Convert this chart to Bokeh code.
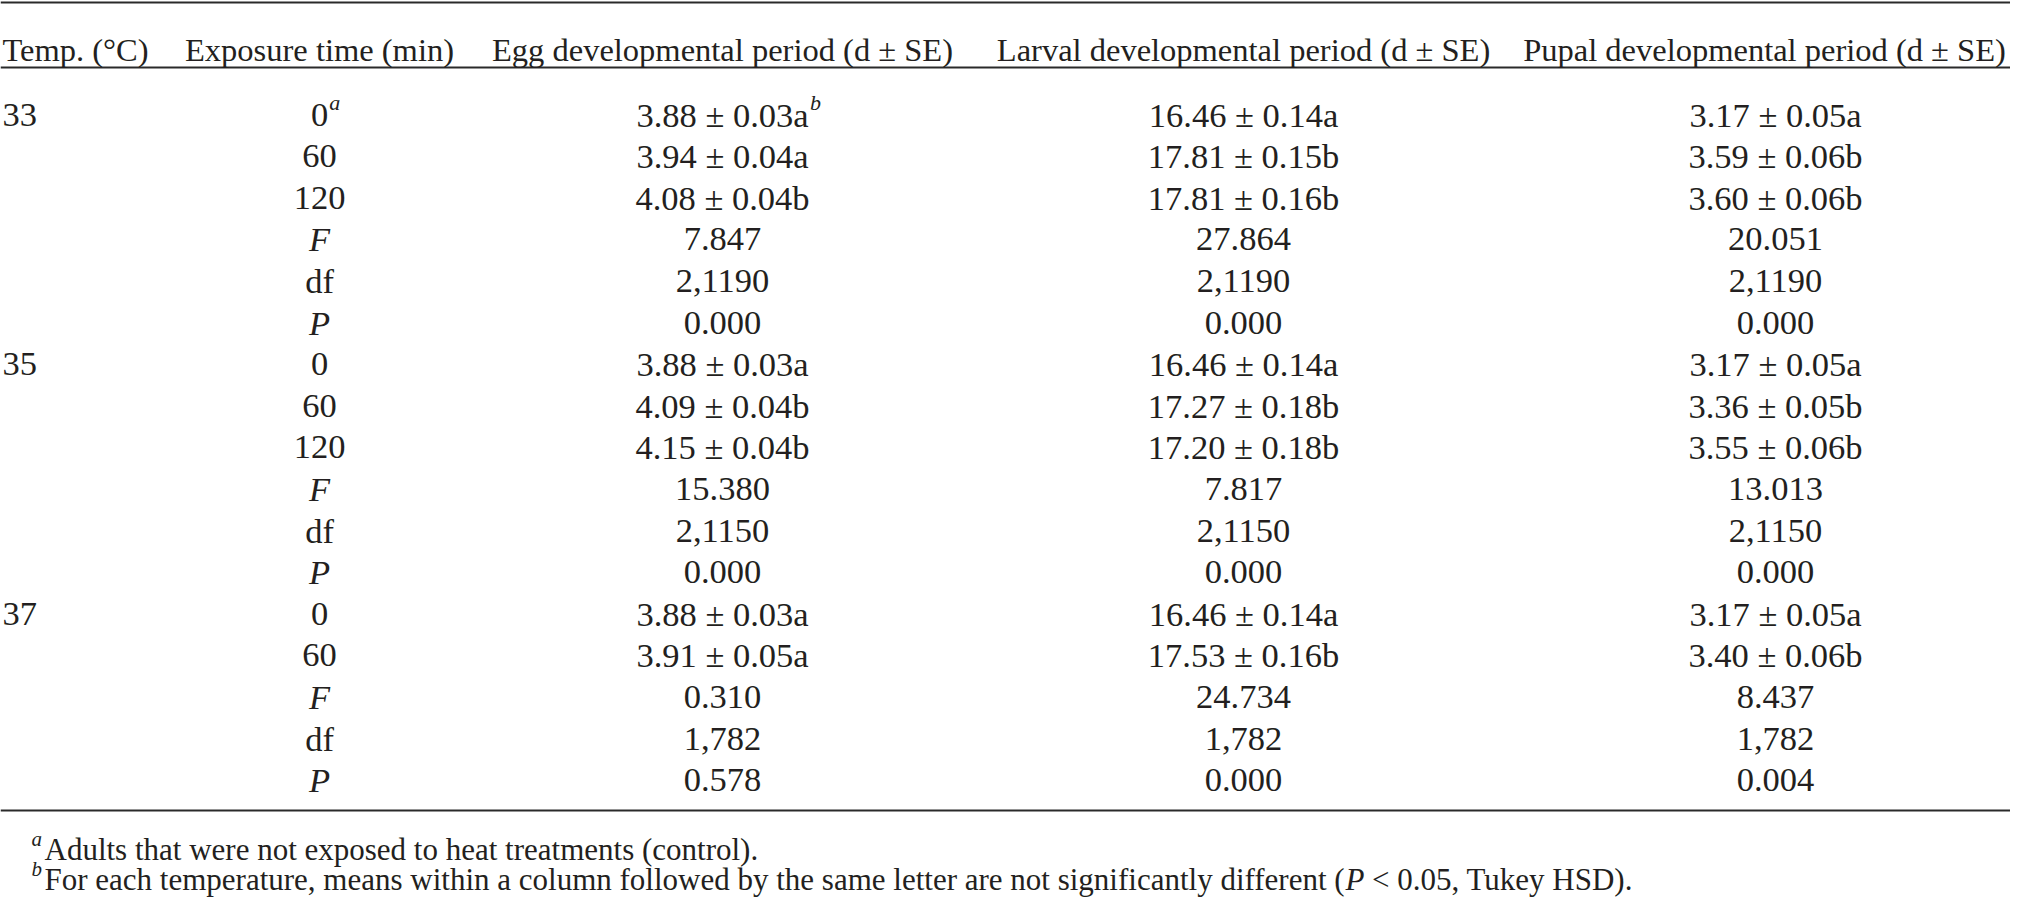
from bokeh.plotting import figure
from bokeh.models import Range1d, ColumnDataSource
from bokeh.core.properties import value
from bokeh.embed import file_html
from bokeh.resources import INLINE

# ---------------- data ----------------
headers = ["Temp. (°C)", "Exposure time (min)",
           "Egg developmental period (d ± SE)",
           "Larval developmental period (d ± SE)",
           "Pupal developmental period (d ± SE)"]
temperatures = ["33", "35", "37"]
temperature_rows = [0, 6, 12]
exposure = ["0", "60", "120", "F", "df", "P",
            "0", "60", "120", "F", "df", "P",
            "0", "60", "F", "df", "P"]
egg = ["3.88 ± 0.03a", "3.94 ± 0.04a", "4.08 ± 0.04b", "7.847", "2,1190", "0.000",
       "3.88 ± 0.03a", "4.09 ± 0.04b", "4.15 ± 0.04b", "15.380", "2,1150", "0.000",
       "3.88 ± 0.03a", "3.91 ± 0.05a", "0.310", "1,782", "0.578"]
larval = ["16.46 ± 0.14a", "17.81 ± 0.15b", "17.81 ± 0.16b", "27.864", "2,1190", "0.000",
          "16.46 ± 0.14a", "17.27 ± 0.18b", "17.20 ± 0.18b", "7.817", "2,1150", "0.000",
          "16.46 ± 0.14a", "17.53 ± 0.16b", "24.734", "1,782", "0.000"]
pupal = ["3.17 ± 0.05a", "3.59 ± 0.06b", "3.60 ± 0.06b", "20.051", "2,1190", "0.000",
         "3.17 ± 0.05a", "3.36 ± 0.05b", "3.55 ± 0.06b", "13.013", "2,1150", "0.000",
         "3.17 ± 0.05a", "3.40 ± 0.06b", "8.437", "1,782", "0.004"]
footnote_a = "Adults that were not exposed to heat treatments (control)."
footnote_b = ["For each temperature, means within a column followed by the same letter are not significantly different (",
              "P", "< 0.05, Tukey HSD)."]

# ---------------- layout (figure pixel coordinates) ----------------
W, H = 2010, 898
FONT = value("Liberation Serif")
COLOR = "#231f20"
HEAD_SIZE = 32.5
BODY_SIZE = 34.5
NOTE_SIZE = 31
SUP_SIZE = 22
NOTE_SUP_SIZE = 21

col_temp_x = 2
col_centers = [319, 722, 1243, 1775]
header_centers = [319, 722, 1243, 1764]
header_base = 49
row_base0, row_dy = 114, 41.6
rule_y = [2, 67, 810]
note_base = [849, 879]

TIMES = {' ': 250, '(': 333, ')': 333, ',': 250, '.': 250, '<': 564, '±': 564, '°': 400,
         'A': 722, 'C': 667, 'D': 722, 'E': 611, 'F': 556, 'H': 722, 'L': 611, 'P': 556,
         'S': 556, 'T': 611, 'a': 444, 'b': 500, 'c': 444, 'd': 500, 'e': 444, 'f': 333,
         'g': 500, 'h': 500, 'i': 278, 'k': 500, 'l': 278, 'm': 778, 'n': 500, 'o': 500,
         'p': 500, 'r': 333, 's': 389, 't': 278, 'u': 500, 'v': 500, 'w': 722, 'x': 500,
         'y': 500}
for d in "0123456789":
    TIMES[d] = 500


def tw(s, size):
    return sum(TIMES.get(c, 500) for c in s) * size / 1000.0


p = figure(width=W, height=H, x_range=Range1d(0, W), y_range=Range1d(H, 0),
           output_backend="svg", toolbar_location=None, min_border=0, title=None,
           x_axis_location=None, y_axis_location=None)
p.grid.visible = False
p.outline_line_color = None
p.background_fill_color = "white"
p.border_fill_color = "white"

# rules
p.segment(x0=[0] * 3, x1=[W] * 3, y0=rule_y, y1=rule_y, line_color="#2a2a2a", line_width=2)


def txt(xs, ys, texts, size, align="center", style="normal"):
    src = ColumnDataSource(dict(x=xs, y=ys, t=texts))
    p.text(x="x", y="y", text="t", source=src, text_font=FONT, text_font_size=f"{size}px",
           text_align=align, text_baseline="alphabetic", text_color=COLOR, text_font_style=style)


# header
head_x = [col_temp_x] + header_centers
for i, h in enumerate(headers):
    txt([head_x[i]], [header_base], [h], HEAD_SIZE, align="left" if i == 0 else "center")

rows_y = [row_base0 + row_dy * i for i in range(len(exposure))]

# temperature column
txt([col_temp_x] * len(temperatures), [rows_y[r] for r in temperature_rows], temperatures,
    BODY_SIZE, align="left")

# exposure column
norm_idx = [i for i, e in enumerate(exposure) if e not in ("F", "P")]
ital_idx = [i for i, e in enumerate(exposure) if e in ("F", "P")]
txt([col_centers[0]] * len(norm_idx), [rows_y[i] for i in norm_idx], [exposure[i] for i in norm_idx], BODY_SIZE)
txt([col_centers[0]] * len(ital_idx), [rows_y[i] for i in ital_idx], [exposure[i] for i in ital_idx], BODY_SIZE,
    style="italic")

# value columns
for c, col in enumerate([egg, larval, pupal]):
    txt([col_centers[c + 1]] * len(col), rows_y, col, BODY_SIZE)

# superscripts in table
sup_x = [col_centers[0] + tw(exposure[0], BODY_SIZE) / 2 + 1,
         col_centers[1] + tw(egg[0], BODY_SIZE) / 2 + 1]
sup_y = [rows_y[0] - 12, rows_y[0] - 12]
txt(sup_x, sup_y, ["a", "b"], SUP_SIZE, align="left", style="italic")

# footnotes
note_sup_x = 31
note_x = 44
txt([note_sup_x, note_sup_x], [note_base[0] - 11, note_base[1] - 11], ["a", "b"], NOTE_SUP_SIZE,
    align="left", style="italic")
txt([note_x], [note_base[0]], [footnote_a], NOTE_SIZE, align="left")
x1 = note_x + tw(footnote_b[0], NOTE_SIZE)
x2 = x1 + (611 + 250) * NOTE_SIZE / 1000.0
txt([note_x], [note_base[1]], [footnote_b[0]], NOTE_SIZE, align="left")
txt([x1], [note_base[1]], [footnote_b[1]], NOTE_SIZE, align="left", style="italic")
txt([x2], [note_base[1]], [footnote_b[2]], NOTE_SIZE, align="left")

open("out.html", "w").write(file_html(p, INLINE))
